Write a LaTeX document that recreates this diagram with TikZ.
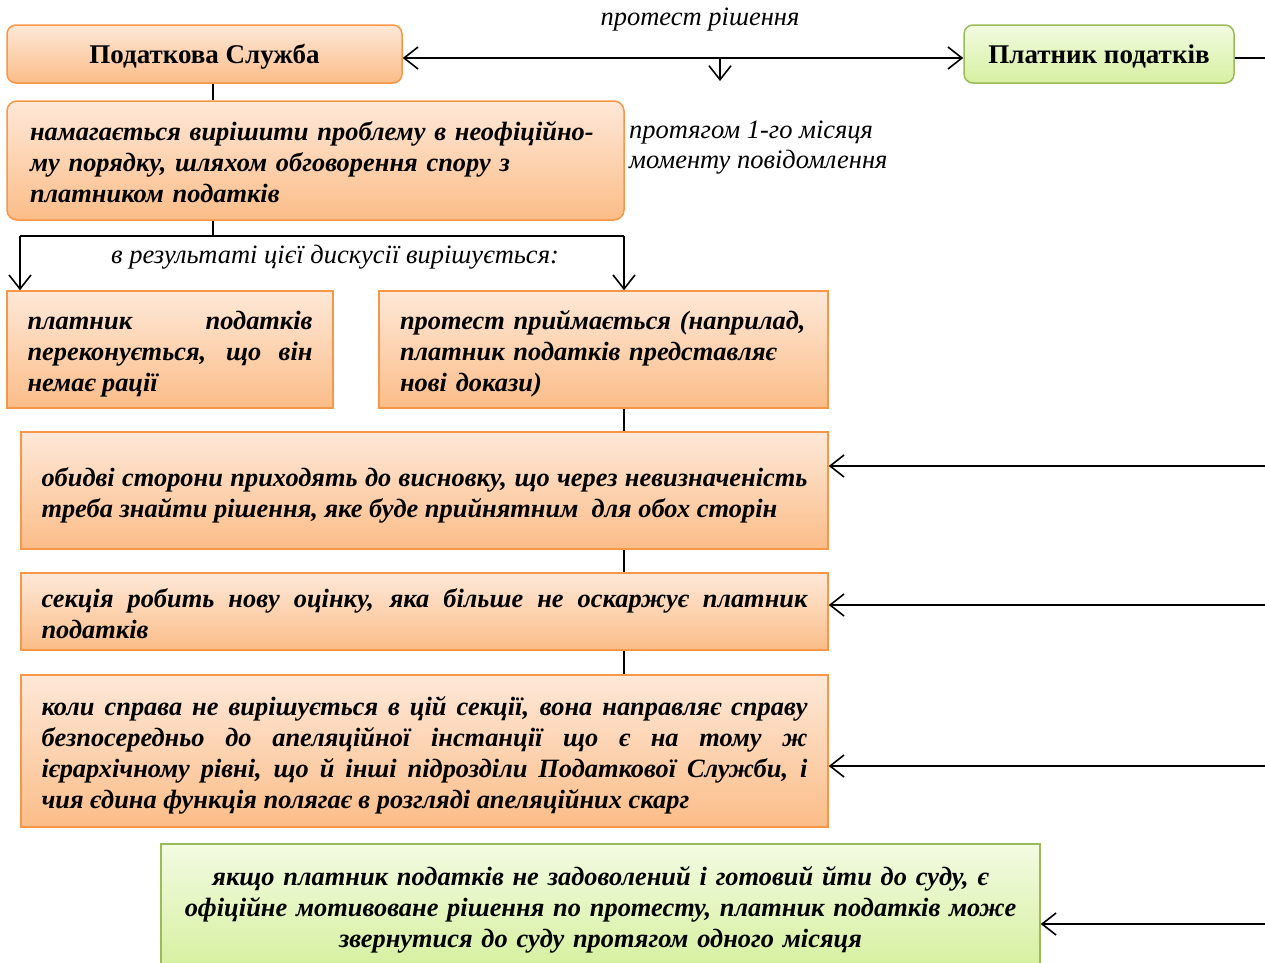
\documentclass[tikz,border=0pt]{standalone}
\usepackage{fontspec}
\setmainfont{Liberation Serif}
\usetikzlibrary{arrows.meta}
\definecolor{obord}{HTML}{F79646}
\definecolor{otop}{HTML}{FEE8D8}
\definecolor{obot}{HTML}{FBBD88}
\definecolor{gbord}{HTML}{9BBB59}
\definecolor{gtop}{HTML}{F3FBE2}
\definecolor{gbot}{HTML}{D6F0A0}
\hyphenpenalty=10000
\begin{document}
\begin{tikzpicture}[x=1pt,y=-1pt,
  obox/.style={draw=obord, line width=1.5pt, top color=otop, bottom color=obot, inner sep=0pt},
  gbox/.style={draw=gbord, line width=1.5pt, top color=gtop, bottom color=gbot, inner sep=0pt},
  body/.style={font=\fontsize{26.4}{31}\selectfont\bfseries\itshape, text height=26pt},
  two/.style={text depth=35pt},
  three/.style={text depth=66pt},
  four/.style={text depth=97pt},
  title/.style={font=\fontsize{27}{31}\selectfont\bfseries, text height=22pt, text depth=4pt},
  note/.style={font=\fontsize{26.5}{30}\selectfont\itshape, inner sep=0pt},
  conn/.style={line width=1.6pt, draw=black},
  arr/.style={conn, -{Straight Barb[length=14pt,width=22pt,line width=1.6pt]}},
  darr/.style={conn, {Straight Barb[length=14pt,width=22pt,line width=1.6pt]}-{Straight Barb[length=14pt,width=22pt,line width=1.6pt]}},
]
\useasboundingbox (0,0) rectangle (1265,962);
\begin{scope}
\clip (0,0) rectangle (1265,962);

% boxes
\node[obox, rounded corners=9pt, minimum width=395pt, minimum height=58pt, title] (ps) at (204.5,54) {Податкова Служба};
\node[gbox, rounded corners=9pt, minimum width=270pt, minimum height=58pt, title] (pp) at (1099,54) {Платник податків};
\node[obox, rounded corners=10pt, minimum width=617pt, minimum height=119pt, body, three, text width=571pt, align=left] (b2) at (315.5,160.5)
  {намагається вирішити проблему в неофіційно-\\му порядку, шляхом обговорення спору з\\платником податків};
\node[obox, minimum width=326pt, minimum height=117pt, body, three, text width=285pt, align=justify] (b3a) at (170,349.5)
  {платник податків\linebreak переконується, що він\linebreak немає рації};
\node[obox, minimum width=449pt, minimum height=117pt, body, three, text width=407pt, align=left] (b3b) at (603.5,349.5)
  {протест приймається (наприлад,\\платник податків представляє\\нові докази)};
\node[obox, minimum width=807pt, minimum height=117pt, body, two, text width=766pt, align=justify] (b4) at (424.5,490.5)
  {обидві сторони приходять до висновку, що через невизначеність\linebreak треба знайти рішення, яке буде прийнятним\ \ для обох сторін};
\node[obox, minimum width=807pt, minimum height=77pt, body, two, text width=766pt, align=justify] (b5) at (424.5,611.5)
  {секція робить нову оцінку, яка більше не оскаржує платник\linebreak податків};
\node[obox, minimum width=807pt, minimum height=152pt, body, four, text width=766pt, align=justify] (b6) at (424.5,751)
  {коли справа не вирішується в цій секції, вона направляє справу\linebreak безпосередньо до апеляційної інстанції що є на тому ж\linebreak ієрархічному рівні, що й інші підрозділи Податкової Служби, і\linebreak чия єдина функція полягає в розгляді апеляційних скарг};
\node[gbox, minimum width=879pt, minimum height=122pt, body, three, text width=840pt, align=center] (b7) at (600.5,905)
  {якщо платник податків не задоволений і готовий йти до суду, є\\офіційне мотивоване рішення по протесту, платник податків може\\звернутися до суду протягом одного місяця};

% labels
\node[note] (l1) at (700,20) {протест рішення};
\node[note, anchor=west, align=left] (l2) at (629,148) {протягом 1-го місяця\\моменту повідомлення};
\node[note] (l3) at (335,257) {в результаті цієї дискусії вирішується:};

% coordinates
\coordinate (cx) at (213,0);
\coordinate (jl) at (20,236);
\coordinate (jr) at (624,236);
\coordinate (mid) at (720,58);
\coordinate (midend) at (720,81);
\coordinate (rout) at (1265,58);
\coordinate (r4) at (1265,466);
\coordinate (r5) at (1265,605);
\coordinate (r6) at (1265,766);
\coordinate (r7) at (1265,924);

% connectors
\draw[darr] (ps.east |- mid) -- (pp.west |- mid);
\draw[arr] (mid) -- (midend);
\draw[conn] (pp.east |- rout) -- (rout);
\draw[conn] (ps.south -| cx) -- (b2.north -| cx);
\draw[conn] (b2.south -| cx) -- (cx |- jl);
\draw[conn] (jl) -- (jr);
\draw[arr] (jl) -- (b3a.north -| jl);
\draw[arr] (jr) -- (b3b.north -| jr);
\draw[conn] (b3b.south -| jr) -- (b4.north -| jr);
\draw[conn] (b4.south -| jr) -- (b5.north -| jr);
\draw[conn] (b5.south -| jr) -- (b6.north -| jr);
\draw[arr] (r4) -- (r4 -| b4.east);
\draw[arr] (r5) -- (r5 -| b5.east);
\draw[arr] (r6) -- (r6 -| b6.east);
\draw[arr] (r7) -- (r7 -| b7.east);
\end{scope}
\end{tikzpicture}
\end{document}
